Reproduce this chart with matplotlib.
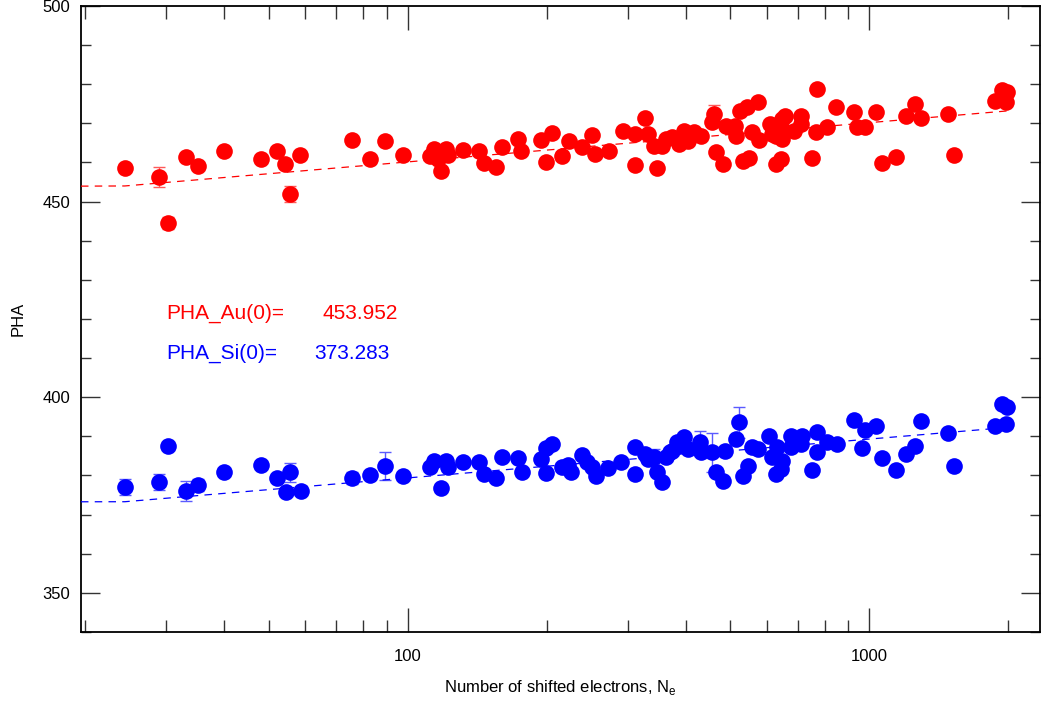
import numpy as np
import matplotlib
matplotlib.use("Agg")
import matplotlib.pyplot as plt
from matplotlib.ticker import FixedLocator, NullFormatter, MultipleLocator

plt.rcParams['font.family'] = ['Liberation Sans', 'DejaVu Sans']

# Au points: number of shifted electrons, PHA, error
au_n = [24.4, 28.9, 30.2, 33.1, 35.2, 40.0, 48.1, 52.1, 54.2, 55.5, 58.4, 75.7, 82.8, 89.2, 97.5,
        111.6, 114, 116, 118.3, 121, 122, 132, 143, 146, 155, 160, 173, 176, 194, 199, 205, 216,
        224, 239, 250, 255, 273, 292, 310, 311, 327, 331, 342, 346, 356, 363, 374, 387, 397, 404,
        417, 432, 455, 461, 466, 481, 488, 511, 513, 523, 532, 542, 549, 557, 574, 576, 610, 616,
        628, 628, 644, 647, 656, 653, 647, 687, 711, 711, 751, 770, 767, 808, 845, 926, 940, 977,
        1034, 1066, 1143, 1200, 1253, 1294, 1477, 1525, 1866, 1941, 1989, 1979]
au_pha = [458.6, 456.3, 444.6, 461.4, 459.1, 462.9, 460.9, 462.9, 459.6, 452.0, 461.9, 465.7, 460.9, 465.5, 461.9,
          461.6, 463.4, 461.0, 457.9, 463.5, 462.0, 463.2, 462.9, 459.8, 458.8, 463.9, 466.0, 462.9, 465.7, 460.1, 467.5, 461.6,
          465.5, 463.9, 467.0, 462.2, 462.9, 468.0, 467.3, 459.3, 471.4, 467.3, 464.2, 458.6, 464.2, 466.0, 466.5, 464.7, 468.0, 465.5,
          467.8, 466.8, 470.3, 472.4, 462.7, 459.6, 469.3, 469.3, 466.8, 473.1, 460.4, 474.2, 461.1, 467.8, 475.4, 465.7, 469.8, 467.3,
          466.8, 459.6, 460.9, 471.1, 471.9, 468.0, 466.0, 468.0, 471.9, 469.8, 461.1, 478.8, 467.8, 469.1, 474.2, 472.9, 469.1, 469.1,
          472.9, 459.8, 461.4, 471.9, 474.9, 471.4, 472.4, 461.9, 475.7, 478.5, 478.0, 475.4]
au_err = [1.0, 2.5, 1.5, 1.0, 1.0, 1.0, 1.0, 1.0, 1.0, 2.0, 1.0, 1.0, 1.0, 1.0, 1.0,
          1.0, 1.0, 1.0, 1.0, 1.0, 1.0, 1.0, 1.0, 1.0, 1.0, 1.0, 1.0, 1.0, 1.0, 1.0, 1.0, 1.0,
          1.0, 1.0, 1.0, 1.0, 1.0, 1.0, 1.0, 1.0, 1.0, 1.0, 1.0, 1.0, 1.0, 1.0, 1.0, 1.0, 1.0, 1.0,
          1.0, 1.0, 1.0, 2.2, 1.0, 1.0, 1.0, 1.0, 1.0, 1.0, 1.0, 1.0, 1.0, 1.0, 1.0, 1.0, 1.0, 1.0,
          1.0, 1.0, 1.0, 1.0, 1.0, 1.0, 1.0, 1.0, 1.0, 1.0, 1.0, 1.0, 1.0, 1.0, 1.0, 1.0, 1.0, 1.0,
          1.0, 1.0, 1.0, 1.0, 1.0, 1.0, 1.0, 1.0, 1.0, 1.0, 1.0, 1.0]

# Si points
si_n = [24.4, 28.9, 30.2, 33.1, 35.2, 40.0, 48.1, 52.1, 54.4, 55.7, 58.6, 75.7, 82.8, 89.2, 97.5,
        111.6, 114, 118, 121, 122, 132, 143, 146, 155, 160, 173, 177, 194, 199, 199, 205, 216,
        222, 226, 239, 244, 250, 256, 272, 290, 311, 311, 326, 331, 342, 346, 356, 363, 369, 374,
        382, 387, 397, 404, 429, 432, 456, 466, 481, 486, 513, 522, 532, 546, 557, 574, 607, 616,
        628, 631, 644, 647, 676, 676, 716, 711, 751, 770, 770, 810, 849, 926, 962, 977, 1034, 1066,
        1143, 1200, 1253, 1294, 1477, 1525, 1866, 1941, 1989, 1979]
si_pha = [377.0, 378.3, 387.5, 376.0, 377.5, 380.8, 382.6, 379.3, 375.7, 380.8, 376.0, 379.3, 380.1, 382.4, 379.8,
          382.1, 383.6, 376.7, 383.6, 382.1, 383.4, 383.4, 380.3, 379.3, 384.7, 384.4, 380.8, 384.1, 380.6, 387.0, 388.0, 382.1,
          382.6, 380.8, 385.2, 383.4, 382.1, 379.8, 381.8, 383.4, 387.2, 380.3, 385.4, 384.1, 384.7, 380.8, 378.3, 384.7, 385.9, 386.2,
          388.5, 387.5, 389.8, 386.7, 388.5, 385.9, 385.9, 380.8, 378.6, 386.2, 389.3, 393.6, 379.8, 382.4, 387.2, 386.7, 390.0, 384.7,
          380.3, 387.2, 381.6, 383.6, 390.0, 387.2, 390.0, 388.0, 381.3, 391.0, 385.9, 388.5, 388.0, 394.1, 387.0, 391.6, 392.6, 384.4,
          381.3, 385.4, 387.5, 393.9, 390.8, 382.4, 392.6, 398.2, 397.4, 393.1]
si_err = [2.0, 2.0, 1.0, 2.5, 1.5, 1.0, 1.0, 1.0, 1.0, 2.5, 1.0, 1.5, 1.0, 3.5, 1.0,
          1.0, 1.0, 1.0, 1.0, 1.0, 1.0, 1.0, 1.0, 1.0, 1.0, 1.0, 1.0, 1.0, 1.0, 1.0, 1.0, 1.0,
          1.0, 1.0, 1.0, 1.0, 1.0, 1.0, 1.0, 1.0, 1.0, 1.0, 1.0, 1.0, 2.0, 1.0, 1.0, 1.0, 1.0, 1.0,
          1.0, 1.0, 1.0, 1.0, 3.0, 1.0, 5.0, 1.0, 1.0, 1.0, 1.0, 4.0, 1.0, 1.0, 1.0, 1.0, 1.0, 1.0,
          1.0, 1.0, 1.0, 1.0, 1.0, 1.0, 1.0, 1.0, 1.0, 1.0, 1.0, 1.0, 1.0, 1.0, 1.0, 1.0, 1.0, 1.0,
          1.0, 1.0, 1.0, 1.0, 1.0, 1.0, 1.0, 1.0, 1.0, 1.0]

# fit lines
fit_n = [19.6, 24.4, 2000]
au_fit = [453.952, 454.0, 473.2]
si_fit = [373.283, 373.3, 392.3]

fig = plt.figure(figsize=(10.41, 7.02), dpi=100)
ax = fig.add_axes([0.0778, 0.0997, 0.9212, 0.8918])

for n, p, e, c, ec in [(au_n, au_pha, au_err, 'red', '#ff5a5a'),
                       (si_n, si_pha, si_err, 'blue', '#5a5aff')]:
    ax.errorbar(n, p, yerr=e, fmt='none', ecolor=ec, elinewidth=1.0, capsize=4, capthick=1.0, zorder=2)
    ax.plot(n, p, 'o', color=c, markersize=12, markeredgewidth=0, zorder=3)

ax.plot(fit_n, au_fit, '--', color='red', lw=0.9, dashes=(6, 5), zorder=4)
ax.plot(fit_n, si_fit, '--', color='blue', lw=0.9, dashes=(6, 5), zorder=4)

ax.set_xscale('log')
ax.set_xlim(19.6, 2340)
ax.set_ylim(340, 500)

ax.xaxis.set_major_locator(FixedLocator([100, 1000]))
ax.set_xticklabels(['100', '1000'])
ax.xaxis.set_minor_locator(FixedLocator([20, 30, 40, 50, 60, 70, 80, 90,
                                          200, 300, 400, 500, 600, 700, 800, 900, 2000]))
ax.xaxis.set_minor_formatter(NullFormatter())
ax.yaxis.set_major_locator(FixedLocator([350, 400, 450, 500]))
ax.yaxis.set_minor_locator(MultipleLocator(10))

ax.tick_params(axis='both', which='both', direction='in', top=True, right=True,
               labelsize=12, width=1.0, color='#333333')
ax.tick_params(axis='x', which='major', length=17, pad=12)
ax.tick_params(axis='x', which='minor', length=9)
ax.tick_params(axis='y', which='major', length=14, pad=8)
ax.tick_params(axis='y', which='minor', length=7)
for s in ax.spines.values():
    s.set_linewidth(1.3)

ax.set_xlabel('Number of shifted electrons, N$_\\mathregular{e}$', fontsize=12, labelpad=10)
ax.set_ylabel('PHA', fontsize=12, labelpad=12)

fig.text(0.1595, 0.554, 'PHA_Au(0)=', color='red', fontsize=15, va='center', ha='left')
fig.text(0.3823, 0.554, '453.952', color='red', fontsize=15, va='center', ha='right')
fig.text(0.1595, 0.497, 'PHA_Si(0)=', color='blue', fontsize=15, va='center', ha='left')
fig.text(0.3746, 0.497, '373.283', color='blue', fontsize=15, va='center', ha='right')

fig.savefig('out.png', dpi=100)
